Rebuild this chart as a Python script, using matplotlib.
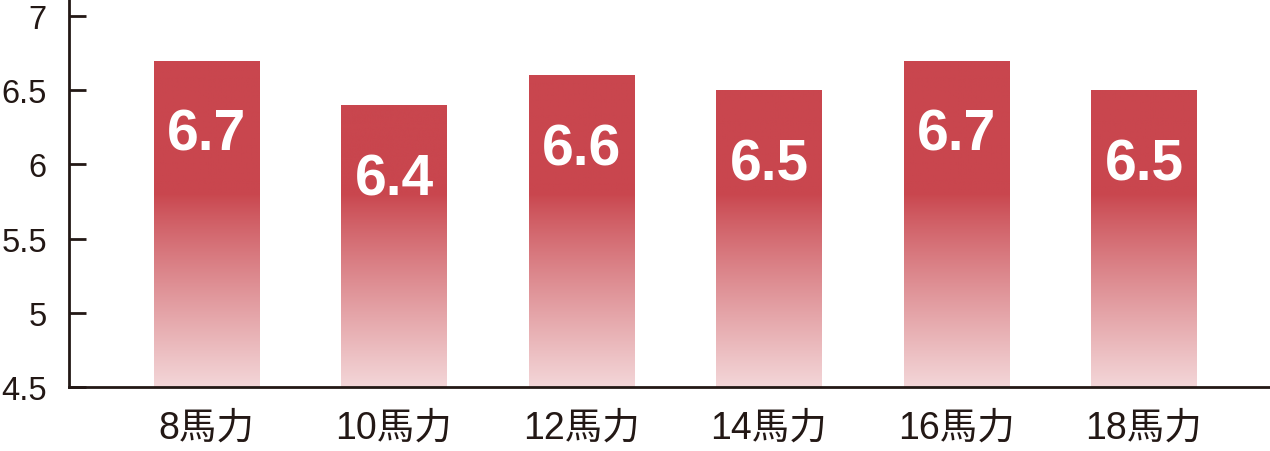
import matplotlib
matplotlib.use("Agg")
import matplotlib.pyplot as plt
import numpy as np

# データ
categories = ["8馬力", "10馬力", "12馬力", "14馬力", "16馬力", "18馬力"]
values = [6.7, 6.4, 6.6, 6.5, 6.7, 6.5]
yticks = [4.5, 5, 5.5, 6, 6.5, 7]

plt.rcParams['font.family'] = ['Liberation Sans', 'Noto Sans CJK JP', 'DejaVu Sans']

fig = plt.figure(figsize=(12.7, 4.52), dpi=100)
ax = fig.add_axes([69 / 1270, 64 / 452, 1 - 69 / 1270, 1 - 64 / 452])

ymin, ymax = 4.5, 7.115
x = np.arange(len(categories))
bars = ax.bar(x, values, width=0.56, color='none', edgecolor='none', zorder=2)

# グラデーション（上は濃い赤、下に向かって淡いピンク）
top_col = np.array([201, 70, 78]) / 255
bot_col = np.array([243, 214, 216]) / 255
ys = np.linspace(ymax, ymin, 400)
t = np.clip((5.8 - ys) / (5.8 - ymin), 0, 1) ** 0.9
grad = top_col[None, :] * (1 - t[:, None]) + bot_col[None, :] * t[:, None]
grad = grad[:, None, :]

for b, v in zip(bars, values):
    x0 = b.get_x()
    w = b.get_width()
    im = ax.imshow(grad, extent=[x0, x0 + w, ymin, ymax], aspect='auto',
                   interpolation='bilinear', zorder=2)
    im.set_clip_path(b)
    ax.text(x0 + w / 2, v - 0.50, f"{v:.1f}", color='white', fontsize=41,
            fontweight='bold', ha='center', va='center', zorder=3)

ax.set_xlim(-0.733, 5.672)
ax.set_ylim(ymin, ymax)
ax.set_yticks(yticks)
ax.set_yticklabels([f"{t:g}" for t in yticks])
ax.set_xticks(x)
ax.set_xticklabels(categories)

axcol = '#231815'
for s in ['top', 'right']:
    ax.spines[s].set_visible(False)
for s in ['left', 'bottom']:
    ax.spines[s].set_color(axcol)
    ax.spines[s].set_linewidth(2)

ax.tick_params(axis='y', direction='in', length=12, width=2, color=axcol,
               labelsize=23.5, labelcolor=axcol, pad=16)
ax.tick_params(axis='x', length=0, labelsize=27, labelcolor=axcol, pad=16)

fig.savefig("out.png", dpi=100)
